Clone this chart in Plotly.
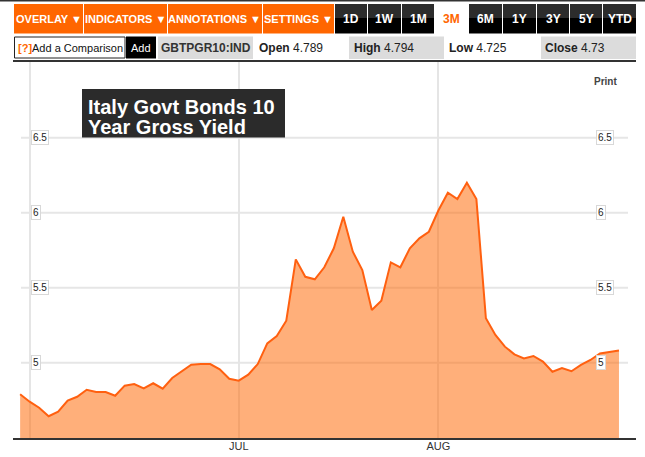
import plotly.graph_objects as go
import pandas as pd

# ---------------- data ----------------
dates = [d.strftime("%Y-%m-%d") for d in pd.bdate_range("2011-05-31", "2011-08-26")]
yields = [
    4.790, 4.740, 4.700, 4.643, 4.673, 4.747, 4.773, 4.820, 4.805, 4.805,
    4.780, 4.847, 4.858, 4.829, 4.863, 4.827, 4.898, 4.945, 4.987, 4.991,
    4.991, 4.956, 4.893, 4.880, 4.920, 4.991, 5.129, 5.178, 5.280, 5.689,
    5.573, 5.556, 5.636, 5.763, 5.973, 5.740, 5.618, 5.351, 5.413, 5.669,
    5.636, 5.763, 5.829, 5.873, 6.015, 6.133, 6.091, 6.200, 6.091, 5.296,
    5.185, 5.107, 5.056, 5.029, 5.045, 5.007, 4.940, 4.965, 4.943, 4.985,
    5.018, 5.062, 5.071, 5.082,
]
x_tick_dates = ["2011-06-01", "2011-07-01", "2011-08-01"]
x_tick_text = ["", "JUL", "AUG"]
y_ticks = [5, 5.5, 6, 6.5]

title_lines = ["Italy Govt Bonds 10", "Year Gross Yield"]
left_buttons = ["OVERLAY ▼", "INDICATORS ▼", "ANNOTATIONS ▼", "SETTINGS ▼"]
range_buttons = ["1D", "1W", "1M", "3M", "6M", "1Y", "3Y", "5Y", "YTD"]
active_range = "3M"
ticker = "GBTPGR10:IND"
stats = [("Open", "4.789"), ("High", "4.794"), ("Low", "4.725"), ("Close", "4.73")]

# ---------------- geometry helpers ----------------
W, H = 645, 457
ML, MR, MT, MB = 13, 9, 62, 19
PW, PH = W - ML - MR, H - MT - MB


def px(x):
    return (x - ML) / PW


def py(y):
    return (H - MB - y) / PH


FONT = "Arial, Liberation Sans, sans-serif"
ORANGE = "#FF6600"

fig = go.Figure()
fig.add_trace(go.Scatter(
    x=dates, y=yields, mode="lines",
    line=dict(color="#FF6010", width=2),
    fill="tozeroy", fillcolor="rgba(255,102,0,0.52)",
    hoverinfo="x+y", showlegend=False,
))

shapes = []
annotations = []

# top dark strip
shapes.append(dict(type="rect", xref="paper", yref="paper", x0=px(0), x1=px(W), y0=py(1.6), y1=py(0),
                   fillcolor="#333", line_width=0, layer="above"))

# left orange buttons
left_edges = [(14, 83), (84, 167), (168, 262), (263, 334)]
for (a, b), label in zip(left_edges, left_buttons):
    shapes.append(dict(type="rect", xref="paper", yref="paper", x0=px(a), x1=px(b), y0=py(33.5), y1=py(4),
                       fillcolor=ORANGE, line_width=0, layer="above"))
    annotations.append(dict(x=px((a + b) / 2), y=py(19), xref="paper", yref="paper", text="<b>%s</b>" % label,
                            showarrow=False, font=dict(family=FONT, size=11, color="white"),
                            xanchor="center", yanchor="middle"))

# range buttons
rb_edges = [(335, 367), (368, 401), (402, 434), (435, 468), (469, 502), (503, 536), (537, 569), (570, 602), (603, 636)]
for (a, b), label in zip(rb_edges, range_buttons):
    if label == active_range:
        col = ORANGE
    else:
        col = "white"
        shapes.append(dict(type="rect", xref="paper", yref="paper", x0=px(a), x1=px(b), y0=py(33.5), y1=py(4),
                           fillcolor="#000", line_width=0, layer="above"))
        shapes.append(dict(type="rect", xref="paper", yref="paper", x0=px(a), x1=px(b), y0=py(18), y1=py(4),
                           fillcolor="#2c2c2c", line_width=0, layer="above"))
    annotations.append(dict(x=px((a + b) / 2), y=py(19), xref="paper", yref="paper", text="<b>%s</b>" % label,
                            showarrow=False, font=dict(family=FONT, size=12, color=col),
                            xanchor="center", yanchor="middle"))

# second row
shapes.append(dict(type="rect", xref="paper", yref="paper", x0=px(14.5), x1=px(125), y0=py(58), y1=py(37),
                   fillcolor="white", line=dict(color="#222", width=1), layer="above"))
annotations.append(dict(x=px(15.5), y=py(48), xref="paper", yref="paper", text="<b>[?]</b>",
                        showarrow=False, font=dict(family=FONT, size=11, color=ORANGE),
                        xanchor="left", yanchor="middle"))
annotations.append(dict(x=px(29.5), y=py(48), xref="paper", yref="paper", text="Add a Comparison",
                        showarrow=False, font=dict(family=FONT, size=11, color="#111"),
                        xanchor="left", yanchor="middle"))
shapes.append(dict(type="rect", xref="paper", yref="paper", x0=px(126), x1=px(156), y0=py(58.5), y1=py(36.5),
                   fillcolor="#000", line_width=0, layer="above"))
annotations.append(dict(x=px(141), y=py(48), xref="paper", yref="paper", text="Add",
                        showarrow=False, font=dict(family=FONT, size=11, color="white"),
                        xanchor="center", yanchor="middle"))
for a, b in [(158, 253), (349, 444), (541, 636)]:
    shapes.append(dict(type="rect", xref="paper", yref="paper", x0=px(a), x1=px(b), y0=py(59), y1=py(36.5),
                       fillcolor="#dcdcdc", line_width=0, layer="above"))
annotations.append(dict(x=px(205.5), y=py(48), xref="paper", yref="paper", text="<b>%s</b>" % ticker,
                        showarrow=False, font=dict(family=FONT, size=12, color="#333"),
                        xanchor="center", yanchor="middle"))
for (name, val), xs in zip(stats, [257, 352, 447, 543]):
    annotations.append(dict(x=px(xs), y=py(48), xref="paper", yref="paper",
                            text="<b>%s</b> %s" % (name, val),
                            showarrow=False, font=dict(family=FONT, size=12, color="#222"),
                            xanchor="left", yanchor="middle"))

# horizontal gridlines
for v in y_ticks:
    shapes.append(dict(type="line", xref="paper", yref="y", x0=px(21), x1=px(628), y0=v, y1=v,
                       line=dict(color="#e6e6e6", width=2), layer="below"))
    for xl in (30.5, 595.5):
        annotations.append(dict(x=px(xl), y=v, xref="paper", yref="y", text="%g" % v,
                                showarrow=False, font=dict(family=FONT, size=10, color="#222"),
                                xanchor="left", yanchor="middle", bgcolor="white",
                                bordercolor="#d8d8d8", borderwidth=1, borderpad=1))

# title box
shapes.append(dict(type="rect", xref="paper", yref="paper", x0=px(82), x1=px(285), y0=py(137.5), y1=py(89),
                   fillcolor="#2b2b2b", line_width=0, layer="above"))
for line, yc in zip(title_lines, (106.5, 127)):
    annotations.append(dict(x=px(85.5), y=py(yc), xref="paper", yref="paper", text="<b>%s</b>" % line,
                            showarrow=False, font=dict(family=FONT, size=20, color="white"),
                            xanchor="left", yanchor="middle"))

# Print
annotations.append(dict(x=px(605.5), y=py(81.5), xref="paper", yref="paper", text="<b>Print</b>",
                        showarrow=False, font=dict(family=FONT, size=10, color="#444"),
                        xanchor="center", yanchor="middle"))

fig.update_layout(
    width=W, height=H,
    margin=dict(l=ML, r=MR, t=MT, b=MB, autoexpand=False),
    paper_bgcolor="white", plot_bgcolor="white",
    showlegend=False,
    shapes=shapes, annotations=annotations,
    xaxis=dict(
        type="date",
        rangebreaks=[dict(bounds=["sat", "mon"])],
        range=["2011-05-30 06:00", "2011-08-29 19:00"],
        tickvals=x_tick_dates, ticktext=x_tick_text,
        showgrid=True, gridcolor="#e5e5e5", gridwidth=2,
        showline=True, linecolor="#333", linewidth=1.5, mirror=True,
        ticks="", tickfont=dict(family=FONT, size=11, color="#333"),
        ticklabelstandoff=-3,
        zeroline=False, fixedrange=True, automargin=False,
    ),
    yaxis=dict(
        range=[4.498, 7.005],
        showgrid=False, showticklabels=False, zeroline=False, showline=False,
        fixedrange=True, automargin=False,
    ),
)

fig.write_html("out.html")
